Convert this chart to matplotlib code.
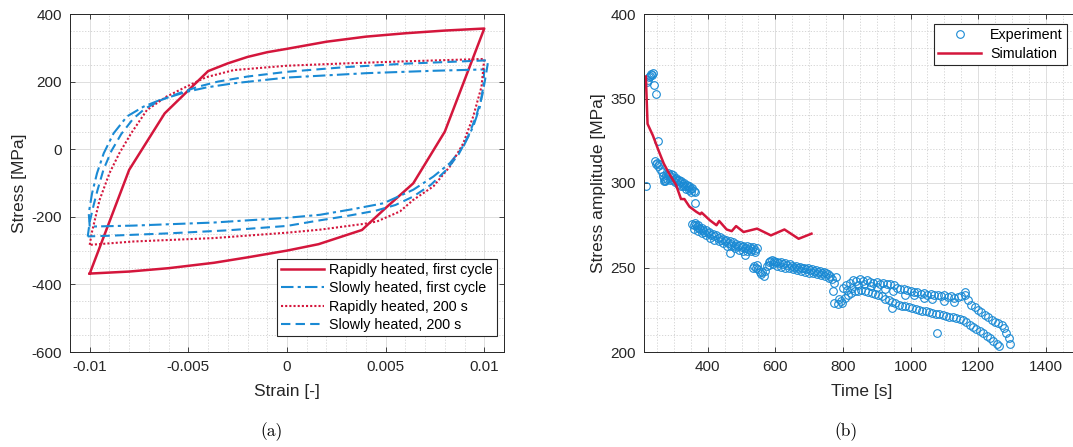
import matplotlib
matplotlib.use("Agg")
import matplotlib.pyplot as plt
import numpy as np

plt.rcParams["font.family"] = ["Liberation Sans", "DejaVu Sans"]
plt.rcParams["axes.unicode_minus"] = False

RED = "#d4163c"
BLUE = "#1a8ad4"
DARK = "#262626"

# --------------------------------------------------------------------------- #
# (a) hysteresis loops: strain [-], stress [MPa]                              #
# --------------------------------------------------------------------------- #
rapid_first_strain = [-0.0100, -0.0080, -0.0062, -0.0040, -0.0030, -0.0020, -0.0010, 0.0000,
                      0.0020, 0.0040, 0.0060, 0.0080, 0.0100,
                      0.0080, 0.0064, 0.0050, 0.0038, 0.0016, 0.0000, -0.0020, -0.0037,
                      -0.0060, -0.0080, -0.0100]
rapid_first_stress = [-368, -61, 106, 231, 254, 273, 287, 297,
                      318, 333, 343, 351, 357,
                      52, -101, -174, -239, -281, -300, -320, -336,
                      -352, -362, -368]

slow_first_strain = [-0.0100, -0.01005, -0.00988, -0.00963, -0.00929, -0.00879, -0.00811,
                     -0.00727, -0.00642, -0.00507, -0.00406, -0.0027, 0.0000, 0.00404,
                     0.00742, 0.0100,
                     0.00995, 0.00978, 0.00944, 0.00894, 0.00826, 0.00742, 0.0064,
                     0.00489, 0.00337, 0.00168, 0.0000, -0.00372, -0.00777, -0.0100]
slow_first_stress = [-229, -189, -130, -71, -12, 47, 97,
                     126, 146, 170, 183, 195, 212, 225,
                     232, 236,
                     185, 126, 67, 8, -41, -81, -120,
                     -160, -177, -194, -203, -217, -226, -229]

rapid_200_strain = [-0.0100, -0.0099, -0.0095, -0.0090, -0.0085, -0.0079, -0.0071,
                    -0.0061, -0.0051, -0.0041, -0.0027, 0.0000, 0.0030, 0.0060, 0.0100,
                    0.00986, 0.00944, 0.00894, 0.00826, 0.00742, 0.0064,
                    0.00573, 0.00455, 0.00388, 0.00168, 0.0000, -0.00372, -0.00777, -0.0100]
rapid_200_stress = [-283, -248, -150, -71, -12, 47, 116,
                    156, 185, 213, 234, 247, 254, 260, 267,
                    185, 97, 18, -51, -110, -150,
                    -184, -214, -221, -238, -247, -263, -273, -283]

slow_200_strain = [-0.0101, -0.0100, -0.0098, -0.0096, -0.0093, -0.0089, -0.0084, -0.0078,
                   -0.0072, -0.0064, -0.0055, -0.0045, -0.0035, -0.0020, 0.0000, 0.0030,
                   0.0060, 0.0102,
                   0.0101, 0.0099, 0.0096, 0.0092, 0.0087, 0.0081, 0.0073, 0.0064,
                   0.0055, 0.0045, 0.0030, 0.0015, 0.0000, -0.0030, -0.0060, -0.0090, -0.0101]
slow_200_stress = [-258, -215, -165, -120, -60, -5, 45, 90,
                   120, 145, 165, 185, 200, 215, 229, 243,
                   253, 263,
                   225, 160, 100, 40, -15, -60, -105, -140,
                   -165, -182, -198, -212, -227, -240, -249, -256, -258]

loop_labels = ["Rapidly heated, first cycle", "Slowly heated, first cycle",
               "Rapidly heated, 200 s", "Slowly heated, 200 s"]

strain_ticks = [-0.01, -0.005, 0, 0.005, 0.01]
strain_ticklabels = ["-0.01", "-0.005", "0", "0.005", "0.01"]
stress_ticks = [-600, -400, -200, 0, 200, 400]

# --------------------------------------------------------------------------- #
# (b) stress amplitude vs time                                                #
# --------------------------------------------------------------------------- #
sim_t = [217, 222, 238, 254, 270, 286, 306, 321, 331, 346, 366, 378, 382, 406, 426,
         434, 456, 471, 484, 506, 546, 587, 627, 669, 707]
sim_amp = [363, 335, 328, 319.5, 311.5, 305.5, 299, 290.5, 290.5, 286, 283, 281.5, 282.5,
           278, 275, 277.5, 272.5, 271.5, 274.5, 271, 273, 269, 272.5, 267, 270]

exp_t_a = [217, 219, 222, 225, 228, 231, 234, 238, 241, 247, 254]
exp_y_a = [298.5, 359.5, 361, 362.5, 363.5, 364.5, 364, 365, 358, 352.5, 325]

exp_t_b = [244, 247, 250, 254, 257, 260, 264, 268, 272, 275]
exp_y_b = [313, 311, 312, 310, 311.5, 308, 306.5, 304, 301, 302]

exp_t_c = [270, 274, 278, 282, 286, 290, 294, 298, 302, 306, 310, 314, 318, 322, 326,
           330, 334, 338, 342, 346, 350, 354, 358, 362, 363,
           280, 288, 296, 304, 312, 320, 328, 336, 344, 352]
exp_y_c = [303, 301, 305, 306, 304.5, 305.5, 303.5, 304.5, 302.5, 303, 301.5, 302, 300.5,
           301, 299.5, 300, 298.5, 299, 297.5, 298, 296.5, 297, 295.5, 294.5, 288,
           302.5, 302, 301.5, 300.5, 299.5, 298.5, 298, 296.5, 296, 294.5]

exp_t_d = [355, 358, 361, 364, 367, 370, 374, 378, 382, 386, 390, 395, 400, 405, 410,
           415, 420, 425, 430, 435, 440, 445, 450, 455, 460, 465, 470, 475, 480, 485,
           490, 495, 500, 505, 510, 515, 520, 525, 530, 535, 540, 545, 466, 510,
           360, 372, 384, 396, 408, 420, 432, 444, 456, 468, 480, 492, 504, 516, 528, 540]
exp_y_d = [276, 275, 276.5, 275, 274, 275, 273.5, 272.5, 273.5, 272, 271, 272, 270.5, 271,
           269.5, 270, 268.5, 269, 267.5, 268, 266.5, 267, 265.5, 266.5, 264.5, 265.5, 264,
           265, 263, 264, 262.5, 263.5, 262, 263, 261.5, 262.5, 261, 262, 261, 262, 260.5,
           261.5, 258.5, 257.5,
           273, 271.5, 270.5, 269, 267.5, 266.5, 265.5, 264.5, 263, 262.5, 261.5, 260.5,
           260, 259.5, 259.5, 259]

exp_t_e = [534, 538, 542, 546, 550, 554, 558, 562, 566, 570, 575, 580, 585, 590, 595, 600,
           606, 612, 618, 624, 630, 636, 642, 648, 654, 660, 666, 672, 678, 684, 690,
           696, 702, 708, 714, 720, 726, 732, 738, 744, 750, 756, 762, 768, 774,
           580, 592, 604, 616, 628, 640, 652, 664, 676, 688, 700, 712, 724, 736, 748, 760]
exp_y_e = [250, 251, 250, 251.5, 249, 247.5, 246, 247.5, 245, 248, 251, 253, 254, 254.5, 254,
           253.5, 253, 252.5, 253, 252, 252.5, 251.5, 252, 251, 250.5, 251, 250, 250.5,
           249.5, 250, 249, 249.5, 248.5, 249, 248, 248.5, 247.5, 248, 247, 247.5, 246.5,
           246, 245, 243, 241,
           251.5, 252, 251, 250.5, 250, 249.5, 249, 248.5, 248, 247.5, 247, 246.5, 246,
           245.5, 245, 244]

exp_t_f1 = [800, 810, 820, 830, 840, 850, 860, 870, 880, 890, 900, 910, 920, 930, 940,
            950, 960, 970, 980, 990, 1000, 1010, 1020, 1030, 1040, 1050, 1060, 1070, 1080,
            1090, 1100, 1110, 1120, 1130, 1140, 1150, 1160, 1170, 1180, 1190, 1200, 1210,
            1220, 1230, 1240, 1250, 1260, 1270, 1278, 1284, 1290, 1295]
exp_y_f1 = [238, 239.5, 241, 242.5, 242, 243, 242, 242.5, 241.5, 241, 241.5, 240.5, 241,
            240, 240.5, 239.5, 238, 237.5, 237, 236.5, 236, 235.5, 235.5, 234.5, 235, 234,
            234.5, 233.5, 234, 233, 233.5, 232.5, 233, 232, 232.5, 233, 234, 231, 228,
            226.5, 225, 223.5, 222, 220.5, 219, 218, 217, 216, 214, 211.5, 208, 204.5]

exp_t_f2 = [775, 785, 795, 805, 815, 825, 835, 845, 855, 865, 875, 885, 895, 905, 915,
            925, 935, 945, 955, 965, 975, 985, 995, 1005, 1015, 1025, 1035, 1045, 1055,
            1065, 1075, 1085, 1095, 1105, 1115, 1125, 1135, 1145, 1155, 1165, 1175, 1185,
            1195, 1205, 1215, 1225, 1235, 1245, 1255, 1262, 1077, 779, 944]
exp_y_f2 = [229, 228.5, 230, 232, 234, 235, 236, 236, 236.5, 236, 235.5, 235, 234.5, 233.5,
            233, 231.5, 230.5, 229.5, 229, 228, 227.5, 227, 226.5, 226, 225.5, 225, 224.5,
            224, 223.5, 223, 222.5, 222.5, 222, 221.5, 221, 220.5, 220, 219.5, 219, 217.5,
            216, 215, 213.5, 212.5, 211, 209.5, 208, 206.5, 205, 203.5, 211, 244.4, 226]

exp_t_f3 = [770, 788, 797, 812, 828, 846, 862, 884, 902, 926, 948, 985, 1010, 1040, 1065,
            1100, 1130, 1160]
exp_y_f3 = [236, 231.5, 229, 236.5, 238, 239.5, 240, 239, 238.5, 237, 236, 234, 233.5, 232,
            231.5, 230, 229.5, 235.5]

time_ticks = [400, 600, 800, 1000, 1200, 1400]
amp_ticks = [200, 250, 300, 350, 400]


def style_axes(ax):
    ax.set_axisbelow(True)
    ax.tick_params(which="both", direction="in", top=True, right=True,
                   colors=DARK, labelcolor=DARK, labelsize=11)
    ax.tick_params(which="major", length=3.5, width=0.6, pad=6)
    ax.tick_params(which="minor", length=0)
    ax.grid(which="major", color="#dedede", lw=0.7, ls="-")
    ax.grid(which="minor", color="#d0d0d0", lw=0.6, ls=(0, (1.5, 2.0)))
    for s in ax.spines.values():
        s.set_color(DARK)
        s.set_linewidth(0.7)


fig = plt.figure(figsize=(10.73, 4.47), dpi=100)
W, H = 1073, 447
ax1 = fig.add_axes([70 / W, (H - 352) / H, 434 / W, 338 / H])
ax2 = fig.add_axes([644.3 / W, (H - 352) / H, 435.2 / W, 338 / H])

# ---- (a) ----
lw = 1.5
ax1.plot(rapid_first_strain, rapid_first_stress, color=RED, lw=1.8, label=loop_labels[0])
ax1.plot(slow_first_strain, slow_first_stress, color=BLUE, lw=lw,
         dashes=(6, 2, 1.5, 2), label=loop_labels[1])
ax1.plot(rapid_200_strain, rapid_200_stress, color=RED, lw=lw,
         dashes=(1, 1), label=loop_labels[2])
ax1.plot(slow_200_strain, slow_200_stress, color=BLUE, lw=lw,
         dashes=(4.5, 2.5), label=loop_labels[3])
ax1.set_xlim(-0.011, 0.011)
ax1.set_ylim(-600, 400)
ax1.set_xticks(strain_ticks, strain_ticklabels)
ax1.set_yticks(stress_ticks)
ax1.xaxis.set_minor_locator(matplotlib.ticker.MultipleLocator(0.001))
ax1.yaxis.set_minor_locator(matplotlib.ticker.MultipleLocator(50))
style_axes(ax1)
ax1.set_xlabel("Strain [-]", fontsize=12.5, color=DARK, labelpad=7)
ax1.set_ylabel("Stress [MPa]", fontsize=12.5, color=DARK, labelpad=3)
leg1 = ax1.legend(loc="lower right", bbox_to_anchor=(0.983, 0.047), borderaxespad=0,
                  fontsize=10.3, handlelength=3.0, labelspacing=0.3, borderpad=0.3,
                  handletextpad=0.3, fancybox=False, framealpha=1, edgecolor=DARK)
leg1.get_frame().set_linewidth(0.8)

# ---- (b) ----
exp_t = exp_t_a + exp_t_b + exp_t_c + exp_t_d + exp_t_e + exp_t_f1 + exp_t_f2 + exp_t_f3
exp_y = exp_y_a + exp_y_b + exp_y_c + exp_y_d + exp_y_e + exp_y_f1 + exp_y_f2 + exp_y_f3
ax2.plot(exp_t, exp_y, ls="none", marker="o", ms=5.5, mfc="none", mec=BLUE, mew=0.8,
         label="Experiment")
ax2.plot(sim_t, sim_amp, color=RED, lw=1.8, label="Simulation")
ax2.set_xlim(212.4, 1500)
ax2.set_ylim(200, 400)
ax2.set_xticks(time_ticks)
ax2.set_yticks(amp_ticks)
ax2.xaxis.set_minor_locator(matplotlib.ticker.MultipleLocator(50))
ax2.yaxis.set_minor_locator(matplotlib.ticker.MultipleLocator(10))
style_axes(ax2)
ax2.set_xlabel("Time [s]", fontsize=12.5, color=DARK, labelpad=7)
ax2.set_ylabel("Stress amplitude [MPa]", fontsize=12.5, color=DARK, labelpad=3)
leg2 = ax2.legend(loc="upper right", bbox_to_anchor=(0.971, 0.970), borderaxespad=0,
                  fontsize=10.3, handlelength=3.0, labelspacing=0.3, borderpad=0.3,
                  handletextpad=0.6, numpoints=1, fancybox=False, framealpha=1,
                  edgecolor=DARK)
leg2.get_frame().set_linewidth(0.8)

# ---- captions ----
fig.text(272 / W, 1 - 432 / H, "(a)", ha="center", va="center", fontsize=12.5,
         family="cmr10")
fig.text(846 / W, 1 - 432 / H, "(b)", ha="center", va="center", fontsize=12.5,
         family="cmr10")

fig.savefig("out.png", dpi=100)
